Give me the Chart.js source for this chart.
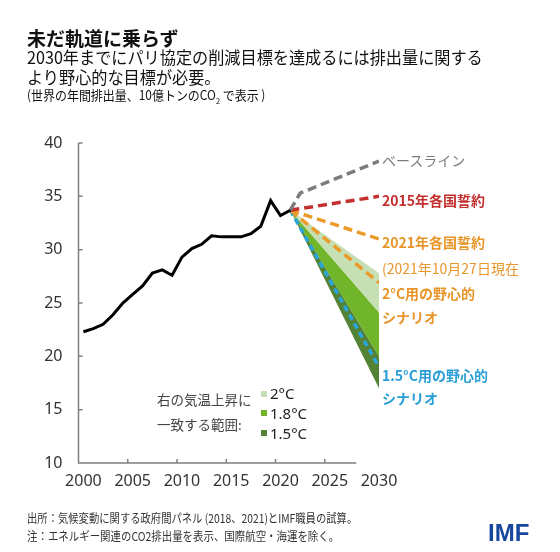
<!DOCTYPE html>
<html lang="ja">
<head>
<meta charset="utf-8">
<script src="https://cdn.jsdelivr.net/npm/chart.js@4/dist/chart.umd.min.js"></script>
<style>
  html, body { margin: 0; padding: 0; background: #fff; }
  body { width: 560px; height: 552px; position: relative; overflow: hidden;
         font-family: "Noto Sans CJK JP", "Noto Sans", sans-serif; color: #111; }
  #chart { position: absolute; left: 0; top: 0; }
  .t { position: absolute; white-space: nowrap; transform-origin: 0 50%; }
  .lbl { position: absolute; white-space: nowrap; font-size: 14px; line-height: 14px; }
  .b { font-weight: 700; }
  .sw { position: absolute; width: 6px; height: 6px; }
</style>
</head>
<body>
<canvas id="chart" width="560" height="552"></canvas>

<div class="t b" style="left:27px; top:28px; font-size:19px; line-height:19px;">未だ軌道に乗らず</div>
<div class="t" style="left:27px; top:47px; font-size:17px; line-height:19px; transform:scaleX(0.95);">2030年までにパリ協定の削減目標を達成るには排出量に関する</div>
<div class="t" style="left:27px; top:67px; font-size:17px; line-height:19px; transform:scaleX(0.95);">より野心的な目標が必要。</div>
<div class="t" style="left:27px; top:88px; font-size:13px; line-height:14px; transform:scaleX(0.92);">(世界の年間排出量、10億トンのCO<sub style="font-size:8px;">2</sub> で表示 )</div>

<!-- 右側のラベル -->
<div class="lbl" style="left:382px; top:153px; color:#7b7b7b;">ベースライン</div>
<div class="lbl b" style="left:382px; top:193px; color:#c4302f;">2015年各国誓約</div>
<div class="lbl b" style="left:382px; top:235px; color:#e8962a;">2021年各国誓約</div>
<div class="lbl" style="left:382px; top:261px; color:#e8962a;">(2021年10月27日現在</div>
<div class="lbl b" style="left:382px; top:286px; color:#e8962a;">2°C用の野心的</div>
<div class="lbl b" style="left:382px; top:310px; color:#e8962a;">シナリオ</div>
<div class="lbl b" style="left:382px; top:368px; color:#2a9fd6;">1.5°C用の野心的</div>
<div class="lbl b" style="left:382px; top:391px; color:#2a9fd6;">シナリオ</div>

<!-- 凡例 -->
<div class="t" style="left:157px; top:392px; font-size:13.5px; line-height:14px; color:#444;">右の気温上昇に</div>
<div class="t" style="left:157px; top:417px; font-size:13.5px; line-height:14px; color:#444;">一致する範囲:</div>
<div class="sw" style="left:261px; top:391px; background:#c6e0b4;"></div>
<div class="sw" style="left:261px; top:410px; background:#71b52b;"></div>
<div class="sw" style="left:261px; top:430px; background:#548235;"></div>
<div class="t" style="left:270px; top:385px; font-family:'Noto Sans'; font-size:15px; line-height:16px; color:#222;">2°C</div>
<div class="t" style="left:270px; top:405px; font-family:'Noto Sans'; font-size:15px; line-height:16px; color:#222;">1.8°C</div>
<div class="t" style="left:270px; top:425px; font-family:'Noto Sans'; font-size:15px; line-height:16px; color:#222;">1.5°C</div>

<!-- 注記 -->
<div class="t" style="left:27px; top:511px; font-size:12px; line-height:14px; color:#333; transform:scaleX(0.86);">出所：気候変動に関する政府間パネル (2018、2021)とIMF職員の試算。</div>
<div class="t" style="left:27px; top:529px; font-size:12px; line-height:14px; color:#333; transform:scaleX(0.87);">注：エネルギー関連のCO2排出量を表示、国際航空・海運を除く。</div>
<div class="t b" style="left:488px; top:521px; font-family:'Liberation Sans'; font-size:24px; line-height:24px; color:#17479b;">IMF</div>

<script>
(function() {
  'use strict';

  // 実績（10億トンCO2）
  const histYears = [2000, 2001, 2002, 2003, 2004, 2005, 2006, 2007, 2008, 2009, 2010,
                     2011, 2012, 2013, 2014, 2015, 2016, 2017, 2018, 2019, 2020, 2021];
  const histValues = [22.3, 22.6, 23.0, 23.9, 25.0, 25.8, 26.6, 27.8, 28.1, 27.6, 29.3,
                      30.1, 30.5, 31.3, 31.2, 31.2, 31.2, 31.5, 32.2, 34.6, 33.2, 33.7];

  // シナリオ（2021年から2030年）
  const baselineYears = [2021, 2022, 2030];
  const baselineValues = [33.7, 35.3, 38.3];
  const projYears = [2021, 2030];
  const pledge2015 = [33.7, 35.0];
  const pledge2021 = [33.7, 31.0];
  const ambitious2C = [33.7, 26.9];
  const ambitious15C = [33.7, 19.0];

  // 気温上昇に一致する範囲（帯の境界）
  const band2CTop = [33.7, 27.8];
  const band18CTop = [33.7, 24.1];
  const band15CTop = [33.7, 20.0];
  const band15CBottom = [33.7, 17.0];

  const xTicks = [2000, 2005, 2010, 2015, 2020, 2025, 2030];
  const yTicks = [10, 15, 20, 25, 30, 35, 40];

  const toPoints = (xs, ys) => xs.map((x, i) => ({ x: x, y: ys[i] }));

  function dashed(data, color, dash) {
    return {
      data: data,
      borderColor: color,
      borderWidth: 3.5,
      borderDash: dash,
      pointRadius: 0,
      fill: false
    };
  }

  function band(data, color, fill) {
    return {
      data: data,
      borderWidth: 0,
      borderColor: 'rgba(0,0,0,0)',
      backgroundColor: color,
      pointRadius: 0,
      fill: fill
    };
  }

  // 軸線と目盛りを手書き（Excel風の内向き目盛り）
  const axisPlugin = {
    id: 'axisLines',
    beforeDatasetsDraw(chart) {
      const { ctx, chartArea, scales } = chart;
      const x = scales.x, y = scales.y;
      ctx.save();
      ctx.strokeStyle = '#7f7f7f';
      ctx.lineWidth = 1.5;
      ctx.beginPath();
      ctx.moveTo(chartArea.left, chartArea.top);
      ctx.lineTo(chartArea.left, chartArea.bottom);
      ctx.lineTo(x.getPixelForValue(2027.7), chartArea.bottom);
      yTicks.forEach(v => {
        const py = y.getPixelForValue(v);
        ctx.moveTo(chartArea.left, py);
        ctx.lineTo(chartArea.left + 4, py);
      });
      [2004.5, 2009.5, 2014.5, 2019.5, 2024.5].forEach(v => {
        const px = x.getPixelForValue(v);
        ctx.moveTo(px, chartArea.bottom);
        ctx.lineTo(px, chartArea.bottom - 4);
      });
      ctx.stroke();
      ctx.restore();
    }
  };

  const tickFont = { family: 'Noto Sans', size: 16 };

  new Chart(document.getElementById('chart'), {
    type: 'line',
    data: {
      datasets: [
        {
          data: toPoints(histYears, histValues),
          borderColor: '#000',
          borderWidth: 3,
          pointRadius: 0,
          fill: false
        },
        dashed(toPoints(baselineYears, baselineValues), '#7b7b7b', [9, 5]),
        dashed(toPoints(projYears, pledge2015), '#c4302f', [9, 5]),
        dashed(toPoints(projYears, pledge2021), '#eb9b2a', [9, 5]),
        dashed(toPoints(projYears, ambitious2C), '#eb9b2a', [9, 5]),
        dashed(toPoints(projYears, ambitious15C), '#2aa5dc', [6, 4]),
        band(toPoints(projYears, band2CTop), '#c6e0b4', '+1'),
        band(toPoints(projYears, band18CTop), '#71b52b', '+1'),
        band(toPoints(projYears, band15CTop), '#548235', '+1'),
        band(toPoints(projYears, band15CBottom), 'rgba(0,0,0,0)', false)
      ]
    },
    options: {
      responsive: false,
      animation: false,
      devicePixelRatio: 1,
      layout: { padding: { left: 0, top: 143, right: 181, bottom: 49 } },
      plugins: { legend: { display: false }, tooltip: { enabled: false } },
      scales: {
        x: {
          type: 'linear',
          min: 1999.5,
          max: 2030,
          border: { display: false },
          grid: { display: false, drawTicks: false },
          afterBuildTicks: s => { s.ticks = xTicks.map(v => ({ value: v })); },
          afterFit: s => { s.height = 40; },
          ticks: {
            autoSkip: false,
            maxRotation: 0,
            padding: 9,
            color: '#333',
            font: tickFont,
            callback: v => String(v)
          }
        },
        y: {
          min: 10,
          max: 40,
          border: { display: false },
          grid: { display: false, drawTicks: false },
          afterBuildTicks: s => { s.ticks = yTicks.map(v => ({ value: v })); },
          afterFit: s => { s.width = 78.5; },
          ticks: {
            padding: 16,
            color: '#333',
            font: tickFont,
            callback: v => String(v)
          }
        }
      }
    },
    plugins: [axisPlugin]
  });
})();
</script>
</body>
</html>
